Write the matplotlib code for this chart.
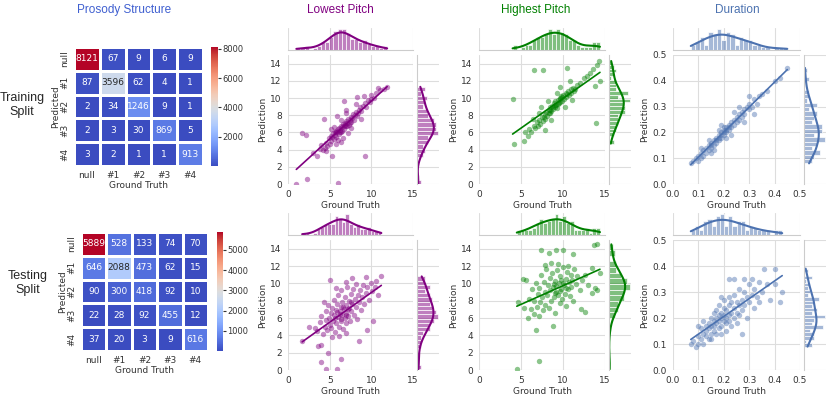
import numpy as np
import matplotlib
matplotlib.use("Agg")
import matplotlib.pyplot as plt
import seaborn as sns

# confusion matrices (rows = predicted, cols = ground truth)
labels = ["null", "#1", "#2", "#3", "#4"]
cm_train = [[8121, 67, 9, 6, 9],
            [87, 3596, 62, 4, 1],
            [2, 34, 1246, 9, 1],
            [2, 3, 30, 869, 5],
            [3, 2, 1, 1, 913]]
cm_test = [[5889, 528, 133, 74, 70],
           [646, 2088, 473, 62, 15],
           [90, 300, 418, 92, 10],
           [22, 28, 92, 455, 12],
           [37, 20, 3, 9, 616]]

# (ground truth, prediction) pairs
lp_train = [(1.0, 0.0), (2.3, 0.55), (6.0, 0.15), (1.7, 5.95), (2.1, 5.7), (4.3, 7.6), (5.3, 3.2),
            (9.2, 3.2), (6.7, 9.7), (8.3, 10.1), (11.9, 11.3), (3.0, 3.6), (3.5, 3.3), (4.0, 4.5),
            (3.8, 4.1), (4.2, 3.9), (4.5, 4.8), (4.7, 4.4), (4.9, 5.3), (5.0, 4.7), (5.1, 5.6),
            (5.2, 5.0), (5.3, 5.5), (5.4, 5.9), (5.5, 5.2), (5.6, 5.7), (5.7, 6.1), (5.8, 5.5),
            (5.9, 6.0), (6.0, 6.4), (6.1, 5.8), (6.2, 6.3), (6.3, 6.7), (6.4, 6.1), (6.5, 6.6),
            (6.6, 7.0), (6.7, 6.4), (6.8, 6.9), (6.9, 7.3), (7.0, 6.7), (7.1, 7.1), (7.2, 7.6),
            (7.3, 6.9), (7.4, 7.4), (7.5, 7.8), (7.6, 7.2), (7.7, 7.7), (7.8, 8.1), (7.9, 7.5),
            (8.0, 8.0), (8.2, 8.4), (8.3, 7.9), (8.5, 8.6), (8.6, 8.9), (8.8, 8.5), (9.0, 9.1),
            (9.2, 9.4), (9.4, 8.9), (9.6, 9.8), (9.8, 9.5), (10.0, 10.3), (10.3, 10.0), (10.6, 10.6),
            (11.0, 10.9), (6.3, 7.4), (5.5, 6.6), (7.5, 6.5), (6.0, 5.1), (8.1, 9.3), (4.6, 3.8),
            (5.7, 4.7), (6.9, 8.2), (7.2, 5.9), (5.9, 7.9), (6.4, 4.9), (8.7, 7.6), (6.6, 5.4),
            (7.0, 8.6), (9.1, 10.2), (5.2, 6.4), (5.6, 6.0), (6.1, 6.5), (6.5, 6.2), (6.8, 7.1),
            (7.1, 6.8), (6.2, 6.0), (5.8, 6.2), (7.4, 7.1), (6.7, 6.8), (8.4, 8.3), (10.8, 11.2),
            (11.5, 11.0), (4.4, 4.2), (9.9, 9.9)]
lp_test = [(4.0, 0.9), (4.8, 2.0), (6.3, 1.3), (5.9, 0.1), (4.5, 0.1), (3.6, 2.8), (3.9, 2.9),
           (1.7, 3.4), (2.5, 5.0), (5.0, 10.4), (7.7, 10.6), (9.3, 10.7), (11.2, 10.8), (10.5, 10.3),
           (8.5, 3.4), (9.5, 4.6), (10.2, 5.6), (3.5, 4.5), (3.8, 5.5), (4.0, 6.2), (4.2, 4.2),
           (4.4, 5.0), (4.5, 6.8), (4.6, 5.8), (4.7, 4.6), (4.8, 7.5), (4.9, 6.0), (5.0, 5.2),
           (5.1, 6.6), (5.2, 4.8), (5.3, 7.2), (5.4, 5.7), (5.5, 8.1), (5.5, 6.3), (5.6, 4.4),
           (5.7, 6.9), (5.8, 5.4), (5.9, 7.6), (6.0, 6.1), (6.0, 8.7), (6.1, 5.0), (6.2, 6.8),
           (6.3, 7.3), (6.3, 5.7), (6.4, 9.2), (6.5, 6.4), (6.5, 7.9), (6.6, 4.7), (6.7, 7.0),
           (6.8, 6.0), (6.8, 8.4), (6.9, 5.4), (7.0, 7.5), (7.0, 6.6), (7.1, 9.6), (7.2, 6.2),
           (7.3, 8.0), (7.3, 7.1), (7.4, 5.6), (7.5, 8.8), (7.6, 6.8), (7.7, 7.6), (7.8, 9.4),
           (7.9, 6.4), (8.0, 8.2), (8.1, 7.3), (8.2, 9.9), (8.3, 5.9), (8.4, 8.6), (8.5, 7.8),
           (8.6, 9.2), (8.7, 6.9), (8.9, 8.4), (9.0, 9.8), (9.1, 7.6), (9.3, 8.9), (9.5, 9.6),
           (9.7, 8.1), (9.9, 10.0), (10.1, 9.1), (10.4, 9.6), (10.8, 8.6), (5.3, 3.8), (6.1, 3.9),
           (7.0, 4.3), (3.2, 4.8), (4.3, 7.9), (5.8, 9.5), (6.9, 10.2), (6.2, 6.5), (6.6, 7.3),
           (5.9, 6.7), (6.4, 5.9), (7.2, 7.0), (5.6, 6.0), (6.9, 6.3), (7.6, 7.9)]
hp_train = [(4.0, 9.9), (6.5, 13.2), (7.6, 13.3), (10.5, 13.5), (13.9, 7.1), (14.4, 12.0), (13.8, 11.4),
            (14.3, 14.3), (14.0, 13.8), (13.6, 13.4), (13.2, 12.9), (4.2, 4.7), (5.3, 5.0), (7.8, 6.3),
            (5.5, 6.0), (5.8, 5.6), (6.0, 6.4), (6.2, 6.1), (6.5, 6.8), (6.7, 6.5), (6.9, 7.2),
            (7.0, 6.8), (7.2, 7.5), (7.3, 7.0), (7.5, 7.8), (7.6, 7.3), (7.8, 8.1), (7.9, 7.6),
            (8.0, 8.4), (8.1, 7.9), (8.3, 8.6), (8.4, 8.2), (8.5, 8.9), (8.6, 8.5), (8.7, 9.1),
            (8.8, 8.7), (8.9, 9.4), (9.0, 8.9), (9.1, 9.6), (9.2, 9.2), (9.3, 8.8), (9.4, 9.8),
            (9.5, 9.4), (9.6, 10.0), (9.7, 9.5), (9.8, 10.2), (9.9, 9.7), (10.0, 10.4), (10.1, 9.9),
            (10.3, 10.6), (10.4, 10.1), (10.6, 10.8), (10.7, 10.4), (10.9, 11.0), (11.0, 10.6),
            (11.2, 11.2), (11.4, 11.0), (11.7, 11.5), (12.0, 11.8), (8.2, 9.7), (9.3, 10.6),
            (10.2, 8.9), (8.6, 7.4), (7.4, 8.9), (11.1, 9.8), (9.6, 11.3), (7.1, 8.2), (10.8, 12.0),
            (6.4, 7.6), (12.5, 12.3), (12.9, 12.6), (8.8, 9.0), (9.1, 9.2), (9.4, 9.3), (8.5, 8.6),
            (9.9, 10.1), (8.3, 8.3), (10.5, 10.5), (9.7, 9.9), (7.7, 7.8), (11.3, 10.8)]
hp_test = [(4.5, 0.1), (7.2, 1.0), (6.8, 4.6), (8.8, 5.1), (7.4, 13.8), (9.2, 13.8), (10.0, 13.9),
           (8.3, 13.5), (11.2, 13.4), (13.7, 14.4), (14.0, 14.5), (13.5, 11.8), (14.1, 9.2), (13.8, 9.5),
           (12.6, 6.7), (12.2, 7.0), (5.2, 10.5), (5.6, 10.4), (4.6, 7.8), (5.3, 7.1), (5.8, 6.0),
           (6.0, 8.2), (6.2, 7.0), (6.3, 9.3), (6.5, 6.5), (6.6, 8.0), (6.8, 10.0), (6.9, 7.3),
           (7.0, 8.8), (7.1, 6.2), (7.2, 9.5), (7.3, 7.8), (7.4, 11.0), (7.5, 8.4), (7.6, 6.9),
           (7.7, 10.2), (7.8, 9.0), (7.9, 7.5), (8.0, 11.6), (8.1, 8.6), (8.2, 9.8), (8.3, 7.2),
           (8.4, 10.6), (8.5, 9.2), (8.6, 8.0), (8.7, 11.2), (8.8, 9.6), (8.9, 8.4), (9.0, 10.3),
           (9.1, 6.6), (9.2, 9.0), (9.3, 11.5), (9.4, 8.6), (9.5, 10.0), (9.6, 7.7), (9.7, 10.8),
           (9.8, 9.4), (9.9, 8.2), (10.0, 11.9), (10.1, 9.8), (10.2, 8.8), (10.3, 10.5), (10.4, 7.4),
           (10.5, 11.3), (10.6, 9.3), (10.7, 10.1), (10.8, 8.5), (10.9, 11.0), (11.0, 9.6),
           (11.1, 10.4), (11.2, 8.0), (11.3, 11.6), (11.5, 9.9), (11.7, 10.8), (12.0, 9.2),
           (12.3, 10.4), (12.6, 11.0), (13.0, 9.8), (13.4, 8.9), (14.4, 11.2), (9.4, 12.2),
           (8.6, 12.4), (10.6, 12.0), (7.8, 12.1), (9.2, 9.7), (9.6, 9.1), (10.0, 10.0), (8.9, 9.9),
           (10.3, 9.5), (9.8, 10.4), (9.0, 8.9)]
dur_train = [(0.07, 0.08), (0.08, 0.09), (0.09, 0.10), (0.10, 0.09), (0.10, 0.11), (0.11, 0.12),
             (0.11, 0.10), (0.12, 0.13), (0.12, 0.11), (0.13, 0.14), (0.13, 0.12), (0.14, 0.13),
             (0.14, 0.15), (0.15, 0.14), (0.15, 0.16), (0.15, 0.15), (0.16, 0.17), (0.16, 0.15),
             (0.17, 0.16), (0.17, 0.18), (0.17, 0.17), (0.18, 0.19), (0.18, 0.17), (0.18, 0.18),
             (0.19, 0.20), (0.19, 0.18), (0.19, 0.19), (0.20, 0.21), (0.20, 0.19), (0.20, 0.20),
             (0.20, 0.22), (0.21, 0.20), (0.21, 0.22), (0.21, 0.21), (0.22, 0.23), (0.22, 0.21),
             (0.22, 0.22), (0.23, 0.24), (0.23, 0.22), (0.24, 0.25), (0.24, 0.23), (0.25, 0.26),
             (0.25, 0.24), (0.26, 0.27), (0.26, 0.25), (0.27, 0.28), (0.27, 0.26), (0.28, 0.29),
             (0.28, 0.27), (0.29, 0.30), (0.30, 0.29), (0.30, 0.31), (0.31, 0.30), (0.32, 0.33),
             (0.33, 0.31), (0.34, 0.34), (0.35, 0.35), (0.37, 0.36), (0.40, 0.40), (0.42, 0.41),
             (0.45, 0.45), (0.11, 0.14), (0.15, 0.12), (0.19, 0.23), (0.23, 0.19), (0.26, 0.30),
             (0.28, 0.24), (0.32, 0.27), (0.30, 0.34), (0.18, 0.21), (0.14, 0.17), (0.21, 0.18),
             (0.24, 0.28), (0.16, 0.13)]
dur_test = [(0.07, 0.10), (0.08, 0.11), (0.09, 0.09), (0.10, 0.13), (0.10, 0.10), (0.11, 0.16),
            (0.11, 0.12), (0.12, 0.14), (0.12, 0.10), (0.13, 0.17), (0.13, 0.13), (0.13, 0.15),
            (0.14, 0.12), (0.14, 0.18), (0.14, 0.16), (0.15, 0.14), (0.15, 0.20), (0.15, 0.17),
            (0.15, 0.12), (0.16, 0.19), (0.16, 0.15), (0.16, 0.22), (0.16, 0.17), (0.17, 0.14),
            (0.17, 0.20), (0.17, 0.18), (0.17, 0.23), (0.18, 0.16), (0.18, 0.21), (0.18, 0.19),
            (0.18, 0.25), (0.19, 0.17), (0.19, 0.22), (0.19, 0.20), (0.19, 0.14), (0.20, 0.24),
            (0.20, 0.19), (0.20, 0.21), (0.20, 0.27), (0.21, 0.18), (0.21, 0.23), (0.21, 0.20),
            (0.21, 0.15), (0.22, 0.25), (0.22, 0.21), (0.22, 0.28), (0.22, 0.19), (0.23, 0.22),
            (0.23, 0.26), (0.23, 0.17), (0.24, 0.24), (0.24, 0.20), (0.24, 0.29), (0.25, 0.22),
            (0.25, 0.26), (0.25, 0.18), (0.26, 0.25), (0.26, 0.31), (0.26, 0.21), (0.27, 0.27),
            (0.27, 0.23), (0.28, 0.30), (0.28, 0.25), (0.29, 0.20), (0.29, 0.28), (0.30, 0.33),
            (0.30, 0.26), (0.31, 0.29), (0.31, 0.35), (0.32, 0.24), (0.32, 0.31), (0.33, 0.28),
            (0.34, 0.34), (0.35, 0.30), (0.36, 0.39), (0.37, 0.33), (0.38, 0.27), (0.40, 0.39),
            (0.40, 0.33), (0.42, 0.26), (0.43, 0.30), (0.12, 0.19), (0.22, 0.35), (0.24, 0.35),
            (0.27, 0.14), (0.10, 0.17), (0.34, 0.26), (0.28, 0.35), (0.19, 0.28)]

titles = ["Prosody Structure", "Lowest Pitch", "Highest Pitch", "Duration"]
title_colors = ["#3f5fd0", "purple", "green", "#4c72b0"]

sns.set_style("whitegrid")
plt.rcParams["font.family"] = ["DejaVu Sans"]

W, H = 830, 398
fig = plt.figure(figsize=(W / 100, H / 100), dpi=100)


def box(x0, y0, x1, y1):
    # pixel box -> figure fraction
    return [x0 / W, 1 - y1 / H, (x1 - x0) / W, (y1 - y0) / H]


tick_col = "#333333"

# column titles and row labels
for tx, t, c in zip([124, 340, 536, 737], titles, title_colors):
    fig.text(tx / W, 1 - 10 / H, t, color=c, fontsize=8.5, ha="center", va="center",
             family="Liberation Sans")
fig.text(22 / W, 1 - 105 / H, "Training\nSplit", fontsize=9, ha="center", va="center",
         family="Liberation Sans", linespacing=1.3)
fig.text(28 / W, 1 - 283 / H, "Testing\nSplit", fontsize=9, ha="center", va="center",
         family="Liberation Sans", linespacing=1.3)

# heatmaps
heat_boxes = [((74, 47, 203, 166), (211, 47, 218, 166), [2000, 4000, 6000, 8000]),
              ((81, 232, 208, 351), (217, 232, 223, 351), [1000, 2000, 3000, 4000, 5000])]
for cm, (hb, cb, cticks) in zip([cm_train, cm_test], heat_boxes):
    ax = fig.add_axes(box(*hb))
    cax = fig.add_axes(box(*cb))
    sns.heatmap(np.array(cm), annot=True, fmt="d", cmap="coolwarm", linewidths=1,
                linecolor="white", ax=ax, cbar_ax=cax, xticklabels=labels,
                yticklabels=labels, annot_kws={"size": 6.5})
    ax.tick_params(labelsize=6.5, length=0, colors=tick_col)
    ax.set_yticklabels(labels, rotation=90, va="center")
    ax.set_xlabel("Ground Truth", fontsize=6.5, color=tick_col, labelpad=1)
    ax.set_ylabel("Predicted", fontsize=6.5, color=tick_col, labelpad=0)
    cax.set_yticks(cticks)
    cax.tick_params(labelsize=6, length=2, colors=tick_col, pad=1)

# joint plots
cols = [(288, 413, "purple", lp_train, lp_test, 15, [0, 5, 10, 15], list(range(0, 15, 2))),
        (479, 605, "green", hp_train, hp_test, 15, [0, 5, 10, 15], list(range(0, 15, 2))),
        (673, 800, "#4c72b0", dur_train, dur_test, 0.5, [0, 0.1, 0.2, 0.3, 0.4, 0.5],
         [0, 0.1, 0.2, 0.3, 0.4, 0.5])]
rows = [(55, 184, 28, 50), (240, 370, 213, 235)]

for x0, x1, color, d_train, d_test, lim, xt, yt in cols:
    for (y0, y1, ty0, ty1), d in zip(rows, [d_train, d_test]):
        gt = np.array([p[0] for p in d])
        pred = np.array([p[1] for p in d])
        ax = fig.add_axes(box(x0, y0, x1, y1))
        ax_t = fig.add_axes(box(x0, ty0, x1, ty1))
        ax_r = fig.add_axes(box(x1 + 4, y0, x1 + 26, y1))

        sns.regplot(x=gt, y=pred, ax=ax, color=color, truncate=True, ci=None,
                    scatter_kws={"s": 15, "alpha": 0.45, "linewidths": 0},
                    line_kws={"linewidth": 1.2})
        ax.set_xlim(0, lim)
        ax.set_ylim(0, lim)
        ax.set_xticks(xt)
        ax.set_yticks(yt)
        ax.tick_params(labelsize=6.5, colors=tick_col, pad=1)
        ax.set_xlabel("Ground Truth", fontsize=6.5, color=tick_col, labelpad=1)
        ax.set_ylabel("Prediction", fontsize=6.5, color=tick_col, labelpad=2)
        ax.grid(color="#dddddd", linewidth=0.8)
        for s in ax.spines.values():
            s.set_visible(False)

        sns.histplot(x=gt, ax=ax_t, kde=True, color=color, bins=22, alpha=0.5,
                     edgecolor="white", linewidth=0.5)
        sns.histplot(y=pred, ax=ax_r, kde=True, color=color, bins=22, alpha=0.5,
                     edgecolor="white", linewidth=0.5)
        ax_t.set_xlim(0, lim)
        ax_t.set_xticks(xt)
        ax_r.set_ylim(0, lim)
        ax_r.set_yticks(yt)
        for a in (ax_t, ax_r):
            a.set_xlabel("")
            a.set_ylabel("")
            a.tick_params(left=False, bottom=False, labelleft=False, labelbottom=False)
            a.grid(color="#dddddd", linewidth=0.8)
            for s in a.spines.values():
                s.set_visible(False)
        ax_t.grid(axis="y", visible=False)
        ax_r.grid(axis="x", visible=False)
        ax_t.spines["bottom"].set_visible(True)
        ax_t.spines["bottom"].set_color("#cccccc")
        ax_r.spines["left"].set_visible(True)
        ax_r.spines["left"].set_color("#cccccc")

fig.savefig("out.png", dpi=100)
